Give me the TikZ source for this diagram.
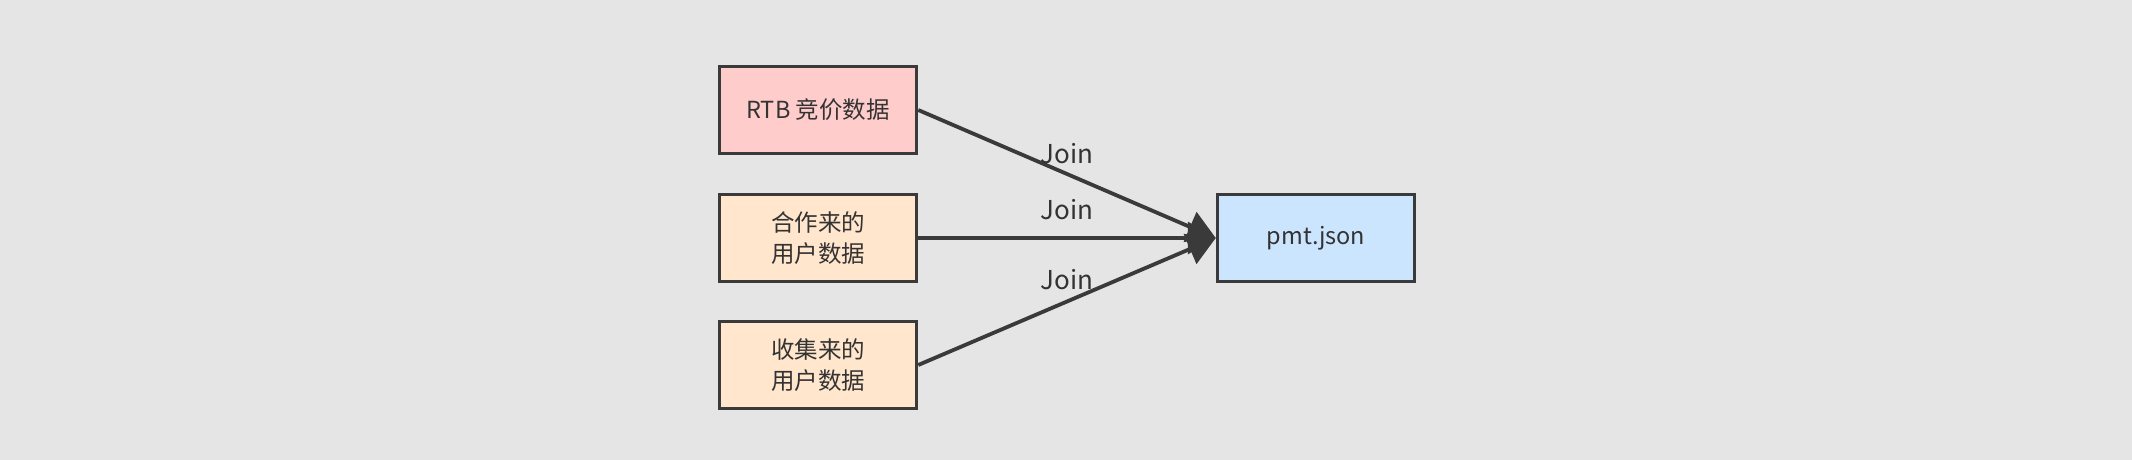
\documentclass[tikz,border=0pt]{standalone}
\usepackage{fontspec}
\setmainfont{Noto Sans CJK SC}
\usetikzlibrary{arrows.meta}
\definecolor{bg}{HTML}{E5E5E5}
\definecolor{edge}{HTML}{3A3A3A}
\definecolor{txt}{HTML}{333333}
\definecolor{pinkfill}{HTML}{FFCCCC}
\definecolor{orangefill}{HTML}{FFE6CC}
\definecolor{bluefill}{HTML}{CCE5FF}
\tikzset{
  box/.style={draw=edge, line width=3.5pt, minimum width=197pt, minimum height=87pt,
    inner sep=0pt, align=center, text=txt, font=\fontsize{23.5}{31}\selectfont},
  conn/.style={draw=edge, line width=3.8pt, -{Triangle[length=28pt,width=32pt]}},
  lab/.style={text=txt, font=\fontsize{26}{30}\selectfont, inner sep=0pt}
}
\begin{document}
\begin{tikzpicture}[x=1pt,y=-1pt]
\fill[bg] (0,0) rectangle (2132,460);
\useasboundingbox (0,0) rectangle (2132,460);
\node[box, fill=pinkfill] (rtb) at (818,110) {RTB 竞价数据};
\node[box, fill=orangefill] (coop) at (818,238) {合作来的\\用户数据};
\node[box, fill=orangefill] (coll) at (818,365) {收集来的\\用户数据};
\node[box, fill=bluefill] (pmt) at (1316,238) {pmt.json};
\draw[conn] (rtb.east) -- (pmt.west);
\draw[conn] (coop.east) -- (pmt.west);
\draw[conn] (coll.east) -- (pmt.west);
\node[lab] (j1) at (1067,154) {Join};
\node[lab] (j2) at (1067,210) {Join};
\node[lab] (j3) at (1067,280) {Join};
\end{tikzpicture}
\end{document}
